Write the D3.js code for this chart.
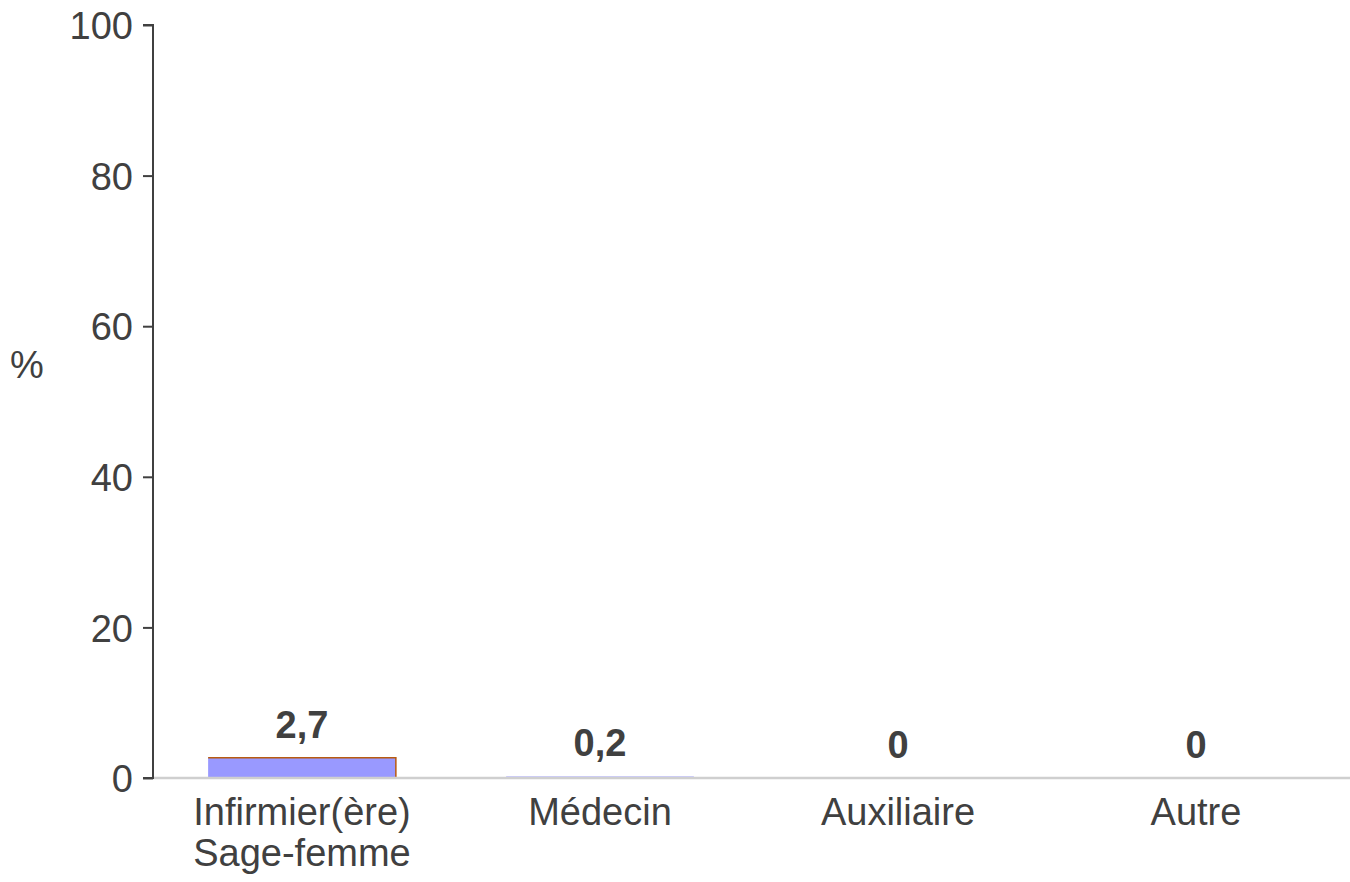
<!DOCTYPE html>
<html>
<head>
<meta charset="utf-8">
<script src="https://cdn.jsdelivr.net/npm/d3@7"></script>
<style>
  html, body { margin: 0; padding: 0; background: #fff; }
  svg { display: block; font-family: "Liberation Sans", Arial, sans-serif; }
</style>
</head>
<body>
<svg id="chart" width="1350" height="882"></svg>
<script>
// Professional categories (two-line labels split on "\n")
const categories = ["Infirmier(ère)\nSage-femme", "Médecin", "Auxiliaire", "Autre"];
const values = [2.7, 0.2, 0, 0];
const valueLabels = ["2,7", "0,2", "0", "0"];
const yTicks = [0, 20, 40, 60, 80, 100];

const svg = d3.select("#chart");
const margin = { left: 153, right: 5, top: 25, bottom: 104 };
const W = 1350, H = 882;
const textColor = "#404040";
const fontSize = 38;

const x = d3.scaleBand()
  .domain(categories)
  .range([margin.left, 1345])
  .paddingInner(0.37)
  .paddingOuter(0.185);

const y = d3.scaleLinear()
  .domain([0, 100])
  .range([H - margin.bottom, margin.top]);

// bars
const bars = svg.append("g");
bars.selectAll("rect")
  .data(values)
  .join("rect")
  .attr("x", (d, i) => x(categories[i]))
  .attr("y", d => y(d))
  .attr("width", x.bandwidth())
  .attr("height", d => y(0) - y(d))
  .attr("fill", "#9999ff");
// top and right edge outline on visible bars
bars.selectAll("path")
  .data(categories.map((c, i) => ({ c, v: values[i] })).filter(d => y(0) - y(d.v) > 3))
  .join("path")
  .attr("d", d => {
    const x0 = x(d.c), x1 = x0 + x.bandwidth();
    return `M${x0},${y(d.v)}H${x1}V${y(0)}`;
  })
  .attr("fill", "none")
  .attr("stroke", "#b85a10")
  .attr("stroke-width", 1.5);

// baseline
svg.append("line")
  .attr("x1", margin.left).attr("x2", W)
  .attr("y1", y(0)).attr("y2", y(0))
  .attr("stroke", "#cfcfcf").attr("stroke-width", 2.5);

// y axis
const yAxis = d3.axisLeft(y).tickValues(yTicks).tickSize(10).tickPadding(10);
const gy = svg.append("g")
  .attr("transform", `translate(${margin.left},0)`)
  .call(yAxis);
gy.attr("font-size", fontSize).attr("font-family", "Liberation Sans, Arial, sans-serif");
gy.select(".domain").attr("stroke", "#404040").attr("stroke-width", 2)
  .attr("d", `M-10,${y(100)}H0V${y(0)}H-10`);
gy.selectAll(".tick line").attr("stroke", "#404040").attr("stroke-width", 2);
gy.selectAll(".tick text")
  .attr("fill", textColor)
  .attr("dy", "0.36em");

// y axis title
svg.append("text")
  .attr("x", 27).attr("y", 378)
  .attr("text-anchor", "middle")
  .attr("fill", textColor)
  .attr("font-size", fontSize)
  .text("%");

// x category labels
const xl = svg.append("g");
categories.forEach(c => {
  const cx = x(c) + x.bandwidth() / 2;
  const t = xl.append("text")
    .attr("x", cx)
    .attr("y", 825)
    .attr("text-anchor", "middle")
    .attr("fill", textColor)
    .attr("font-size", fontSize);
  c.split("\n").forEach((line, k) => {
    t.append("tspan")
      .attr("x", cx)
      .attr("dy", k === 0 ? 0 : 41)
      .text(line);
  });
});

// value labels
svg.append("g").selectAll("text")
  .data(values)
  .join("text")
  .attr("x", (d, i) => x(categories[i]) + x.bandwidth() / 2)
  .attr("y", d => y(d) - 20)
  .attr("text-anchor", "middle")
  .attr("fill", textColor)
  .attr("font-size", fontSize)
  .attr("font-weight", "bold")
  .text((d, i) => valueLabels[i]);
</script>
</body>
</html>
